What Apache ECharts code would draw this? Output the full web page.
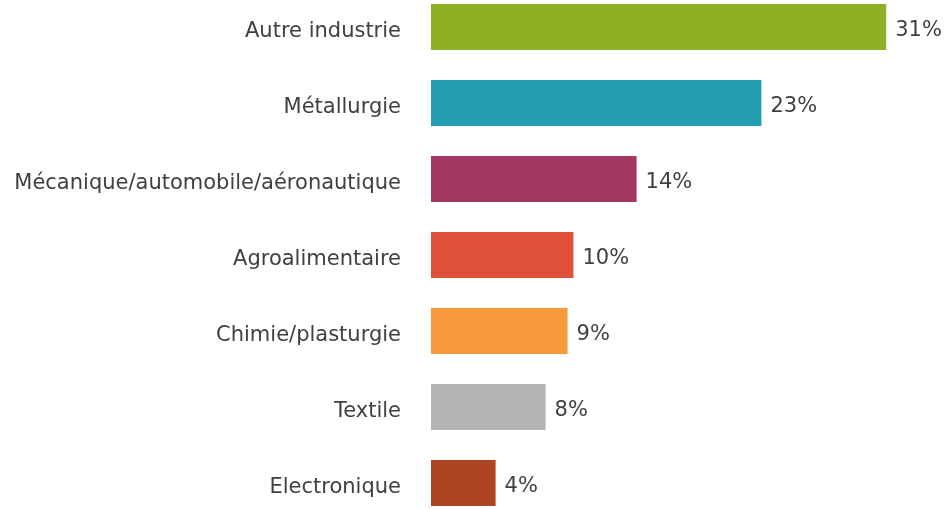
<!DOCTYPE html>
<html><head><meta charset="utf-8">
<script src="https://cdn.jsdelivr.net/npm/echarts@6/dist/echarts.min.js"></script>
<style>html,body{margin:0;padding:0;background:#fff;overflow:hidden}#c{width:949px;height:532px;margin-top:-11px}</style>
</head><body><div id="c"></div>
<script>
const categories = ["Autre industrie","Métallurgie","Mécanique/automobile/aéronautique","Agroalimentaire","Chimie/plasturgie","Textile","Electronique"];
const values = [31, 22.5, 14, 9.7, 9.3, 7.8, 4.4];
const labels = ["31%","23%","14%","10%","9%","8%","4%"];
const colors = ["#8DB025","#239EAF","#A23762","#E0513A","#F79A3B","#B3B3B3","#AF4422"];

const chart = echarts.init(document.getElementById('c'));
chart.setOption({
  animation: false,
  grid: {left: 431, top: 0, width: 514, bottom: 0, containLabel: false, outerBoundsMode: 'none'},
  xAxis: {type: 'value', min: 0, max: 35, show: false},
  yAxis: {
    type: 'category', data: categories, inverse: true,
    axisLine: {show: false}, axisTick: {show: false},
    axisLabel: {margin: 30, fontSize: 21, color: '#404040', fontFamily: 'DejaVu Sans, sans-serif',
      formatter: v => '{a|' + v + '}',
      rich: {a: {fontSize: 21, color: '#404040', fontFamily: 'DejaVu Sans, sans-serif', padding: [9, 0, 0, 0]}}}
  },
  series: [{
    type: 'bar', barWidth: 46,
    data: values.map((v, i) => ({value: v, itemStyle: {color: colors[i]}})),
    label: {show: true, position: 'right', distance: 9, offset: [0, 4], fontSize: 21, color: '#404040',
      fontFamily: 'DejaVu Sans, sans-serif',
      formatter: p => labels[p.dataIndex]}
  }]
});
</script></body></html>
